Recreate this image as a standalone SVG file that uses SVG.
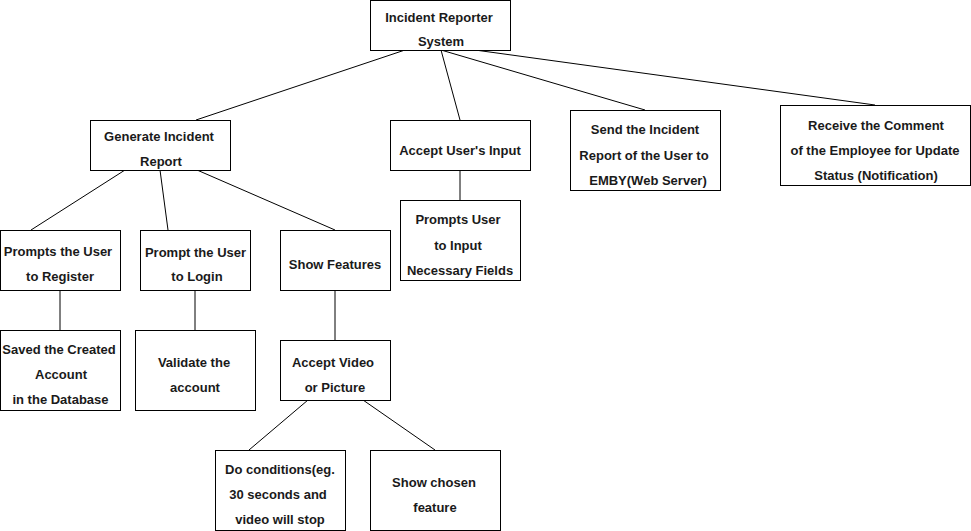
<svg xmlns="http://www.w3.org/2000/svg" width="971" height="531" viewBox="0 0 971 531">
<style>
.box{fill:#fff;stroke:#000;stroke-width:1}
.t{font-family:"Liberation Sans",Arial,Helvetica,sans-serif;font-size:13px;font-weight:bold;fill:#1a1a1a;text-anchor:middle}
.c line{stroke:#000;stroke-width:1}
</style>
<rect width="971" height="531" fill="#fff"/>
<g class="c" id="connectors">
<line x1="405" y1="50" x2="196" y2="120"/>
<line x1="441" y1="50" x2="460" y2="120"/>
<line x1="441" y1="50" x2="645" y2="110"/>
<line x1="475" y1="50" x2="875" y2="105"/>
<line x1="125" y1="170" x2="31" y2="230"/>
<line x1="160" y1="170" x2="168" y2="230"/>
<line x1="197" y1="170" x2="335" y2="230"/>
<line x1="460" y1="170" x2="460" y2="200"/>
<line x1="60" y1="290" x2="60" y2="330"/>
<line x1="195" y1="290" x2="195" y2="330"/>
<line x1="335" y1="290" x2="335" y2="340"/>
<line x1="308" y1="400" x2="249" y2="450"/>
<line x1="363" y1="400" x2="435" y2="450"/>
</g>
<g id="root"><rect class="box" x="370.5" y="0.5" width="140" height="50"/>
<text class="t" x="439" y="22">Incident Reporter</text><text class="t" x="441" y="46">System</text></g>
<g id="generate"><rect class="box" x="90.5" y="120.5" width="140" height="50"/>
<text class="t" x="159" y="141">Generate Incident</text><text class="t" x="161" y="166">Report</text></g>
<g id="accept-input"><rect class="box" x="390.5" y="120.5" width="140" height="50"/>
<text class="t" x="460" y="155">Accept User's Input</text></g>
<g id="send"><rect class="box" x="570.5" y="110.5" width="150" height="80"/>
<text class="t" x="645" y="134">Send the Incident</text><text class="t" x="644" y="160">Report of the User to</text><text class="t" x="648" y="185">EMBY(Web Server)</text></g>
<g id="receive"><rect class="box" x="780.5" y="105.5" width="190" height="80"/>
<text class="t" x="876" y="130">Receive the Comment</text><text class="t" x="875" y="155">of the Employee for Update</text><text class="t" x="876" y="180">Status (Notification)</text></g>
<g id="prompts-input"><rect class="box" x="400.5" y="200.5" width="120" height="80"/>
<text class="t" x="458" y="224">Prompts User</text><text class="t" x="458" y="250">to Input</text><text class="t" x="460" y="275">Necessary Fields</text></g>
<g id="register"><rect class="box" x="0.5" y="230.5" width="120" height="60"/>
<text class="t" x="58" y="256">Prompts the User</text><text class="t" x="60" y="281">to Register</text></g>
<g id="login"><rect class="box" x="140.5" y="230.5" width="110" height="60"/>
<text class="t" x="195.5" y="257">Prompt the User</text><text class="t" x="197" y="281">to Login</text></g>
<g id="show-features"><rect class="box" x="280.5" y="230.5" width="110" height="60"/>
<text class="t" x="335" y="269">Show Features</text></g>
<g id="saved"><rect class="box" x="0.5" y="330.5" width="120" height="80"/>
<text class="t" x="59" y="354">Saved the Created</text><text class="t" x="61" y="379">Account</text><text class="t" x="60.5" y="404">in the Database</text></g>
<g id="validate"><rect class="box" x="135.5" y="330.5" width="120" height="80"/>
<text class="t" x="194" y="367">Validate the</text><text class="t" x="195" y="392">account</text></g>
<g id="accept-video"><rect class="box" x="280.5" y="340.5" width="110" height="60"/>
<text class="t" x="333" y="367">Accept Video</text><text class="t" x="335" y="392">or Picture</text></g>
<g id="conditions"><rect class="box" x="215.5" y="450.5" width="130" height="80"/>
<text class="t" x="280" y="474">Do conditions(eg.</text><text class="t" x="278" y="499">30 seconds and</text><text class="t" x="280" y="524">video will stop</text></g>
<g id="show-chosen"><rect class="box" x="370.5" y="450.5" width="130" height="80"/>
<text class="t" x="434" y="487">Show chosen</text><text class="t" x="435" y="512">feature</text></g>
</svg>
